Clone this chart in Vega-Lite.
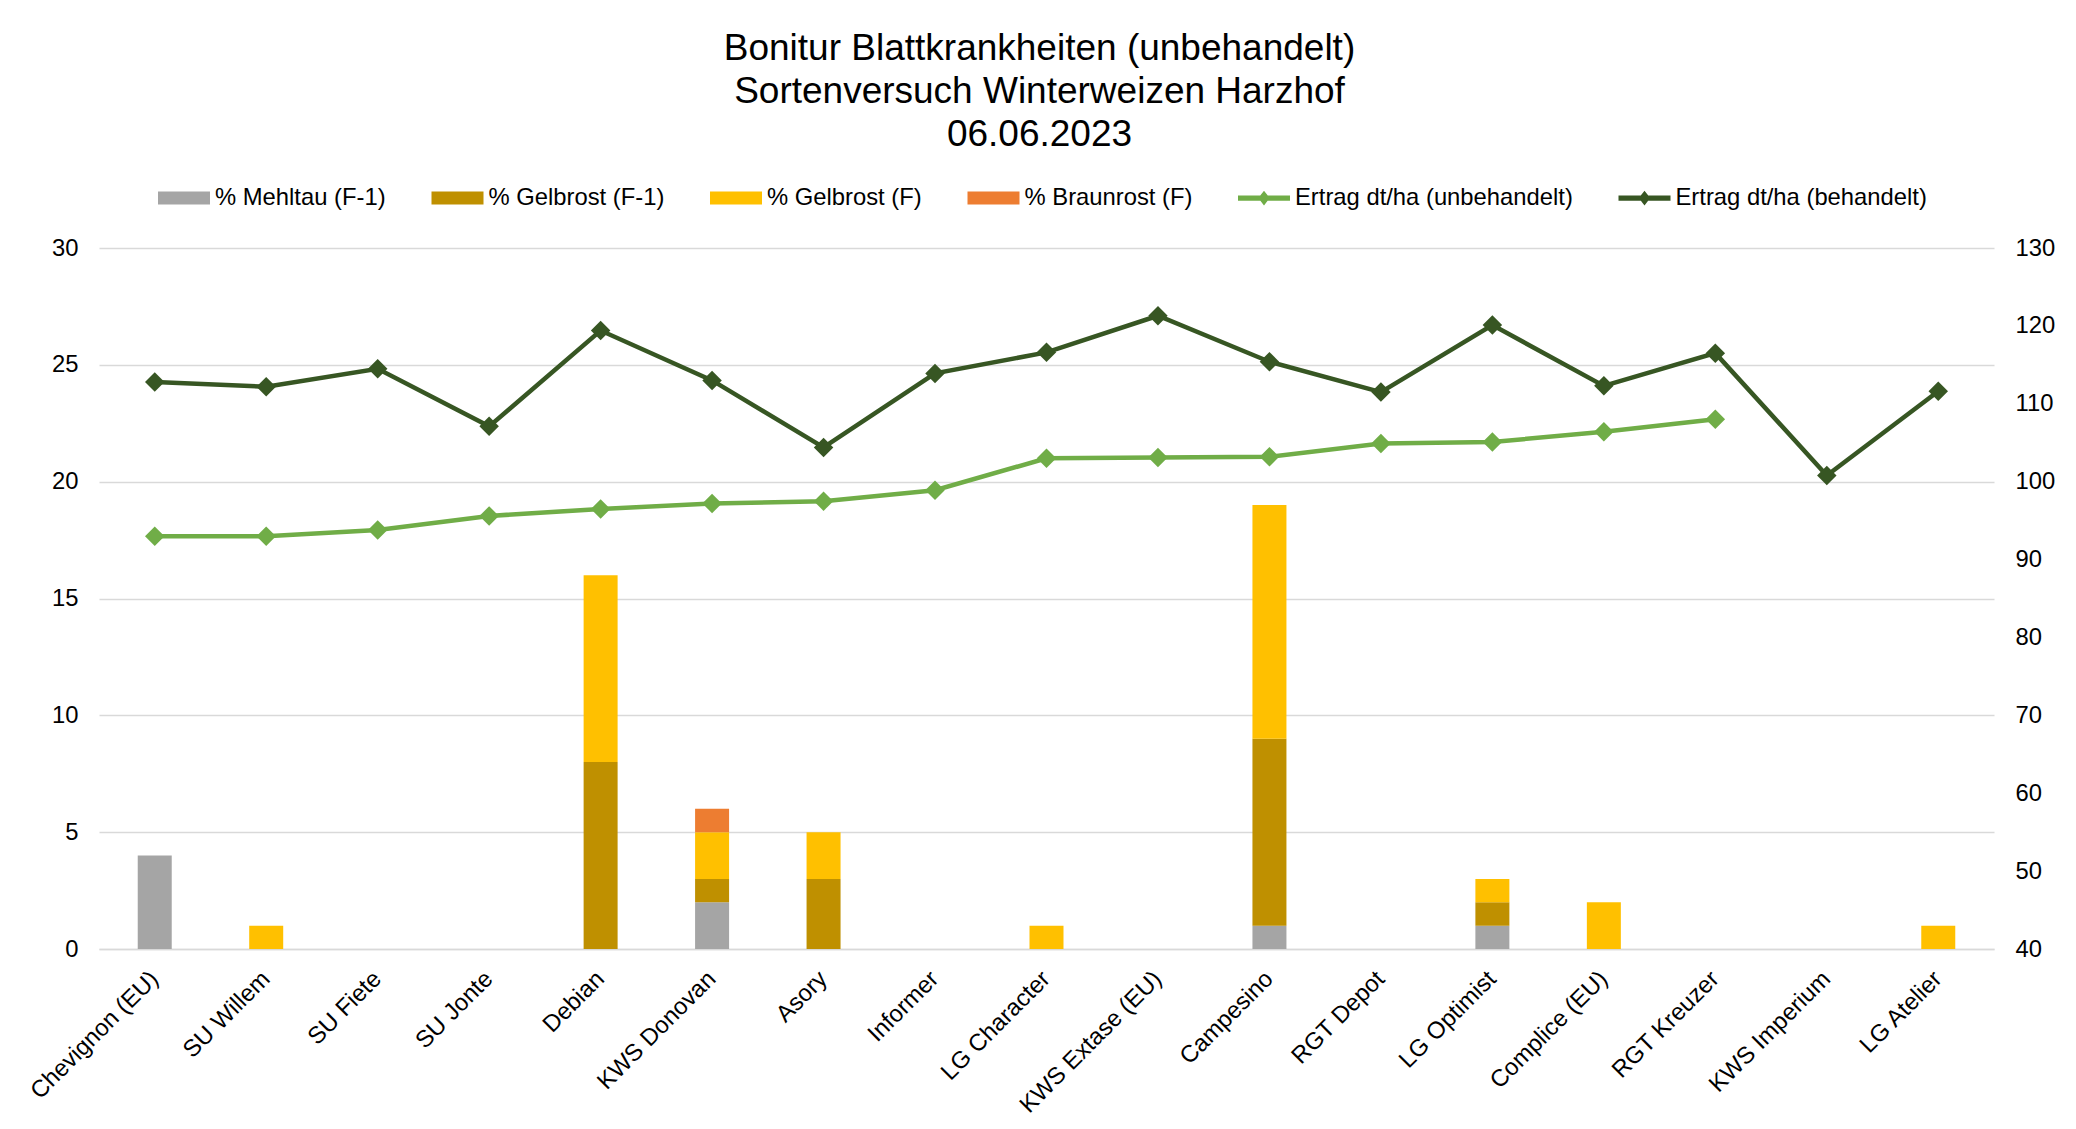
{
  "$schema": "https://vega.github.io/schema/vega-lite/v6.json",
  "width": 1895,
  "height": 701,
  "autosize": {"type": "none"},
  "padding": {"left": 99, "top": 248, "right": 82, "bottom": 180},
  "background": "#ffffff",
  "config": {
    "font": "Liberation Sans",
    "view": {"stroke": null},
    "axis": {"labelFont": "Liberation Sans", "labelFontSize": 23.8, "labelColor": "#000000", "titleFont": "Liberation Sans", "labelLimit": 0},
    "legend": {"labelFont": "Liberation Sans", "labelFontSize": 23.8, "labelColor": "#000000", "labelLimit": 0}
  },
  "title": {
    "text": ["Bonitur Blattkrankheiten (unbehandelt)", "Sortenversuch Winterweizen Harzhof", "06.06.2023"],
    "fontSize": 37,
    "fontWeight": "normal",
    "font": "Liberation Sans",
    "color": "#000000",
    "lineHeight": 43,
    "anchor": "middle",
    "frame": "group",
    "offset": 18,
    "dx": -7
  },
  "datasets": {
    "bars": [
      {"sorte": "Chevignon (EU)", "serie": "% Mehltau (F-1)", "wert": 4},
      {"sorte": "SU Willem", "serie": "% Gelbrost (F)", "wert": 1},
      {"sorte": "Debian", "serie": "% Gelbrost (F-1)", "wert": 8},
      {"sorte": "Debian", "serie": "% Gelbrost (F)", "wert": 8},
      {"sorte": "KWS Donovan", "serie": "% Mehltau (F-1)", "wert": 2},
      {"sorte": "KWS Donovan", "serie": "% Gelbrost (F-1)", "wert": 1},
      {"sorte": "KWS Donovan", "serie": "% Gelbrost (F)", "wert": 2},
      {"sorte": "KWS Donovan", "serie": "% Braunrost (F)", "wert": 1},
      {"sorte": "Asory", "serie": "% Gelbrost (F-1)", "wert": 3},
      {"sorte": "Asory", "serie": "% Gelbrost (F)", "wert": 2},
      {"sorte": "LG Character", "serie": "% Gelbrost (F)", "wert": 1},
      {"sorte": "Campesino", "serie": "% Mehltau (F-1)", "wert": 1},
      {"sorte": "Campesino", "serie": "% Gelbrost (F-1)", "wert": 8},
      {"sorte": "Campesino", "serie": "% Gelbrost (F)", "wert": 10},
      {"sorte": "LG Optimist", "serie": "% Mehltau (F-1)", "wert": 1},
      {"sorte": "LG Optimist", "serie": "% Gelbrost (F-1)", "wert": 1},
      {"sorte": "LG Optimist", "serie": "% Gelbrost (F)", "wert": 1},
      {"sorte": "Complice (EU)", "serie": "% Gelbrost (F)", "wert": 2},
      {"sorte": "LG Atelier", "serie": "% Gelbrost (F)", "wert": 1}
    ],
    "ertrag": [
      {"sorte": "Chevignon (EU)", "serie": "Ertrag dt/ha (unbehandelt)", "wert": 93.0},
      {"sorte": "SU Willem", "serie": "Ertrag dt/ha (unbehandelt)", "wert": 93.0},
      {"sorte": "SU Fiete", "serie": "Ertrag dt/ha (unbehandelt)", "wert": 93.8},
      {"sorte": "SU Jonte", "serie": "Ertrag dt/ha (unbehandelt)", "wert": 95.6},
      {"sorte": "Debian", "serie": "Ertrag dt/ha (unbehandelt)", "wert": 96.5},
      {"sorte": "KWS Donovan", "serie": "Ertrag dt/ha (unbehandelt)", "wert": 97.2},
      {"sorte": "Asory", "serie": "Ertrag dt/ha (unbehandelt)", "wert": 97.5},
      {"sorte": "Informer", "serie": "Ertrag dt/ha (unbehandelt)", "wert": 98.9},
      {"sorte": "LG Character", "serie": "Ertrag dt/ha (unbehandelt)", "wert": 103.0},
      {"sorte": "KWS Extase (EU)", "serie": "Ertrag dt/ha (unbehandelt)", "wert": 103.1},
      {"sorte": "Campesino", "serie": "Ertrag dt/ha (unbehandelt)", "wert": 103.2},
      {"sorte": "RGT Depot", "serie": "Ertrag dt/ha (unbehandelt)", "wert": 104.9},
      {"sorte": "LG Optimist", "serie": "Ertrag dt/ha (unbehandelt)", "wert": 105.1},
      {"sorte": "Complice (EU)", "serie": "Ertrag dt/ha (unbehandelt)", "wert": 106.4},
      {"sorte": "RGT Kreuzer", "serie": "Ertrag dt/ha (unbehandelt)", "wert": 108.0},
      {"sorte": "Chevignon (EU)", "serie": "Ertrag dt/ha (behandelt)", "wert": 112.8},
      {"sorte": "SU Willem", "serie": "Ertrag dt/ha (behandelt)", "wert": 112.2},
      {"sorte": "SU Fiete", "serie": "Ertrag dt/ha (behandelt)", "wert": 114.5},
      {"sorte": "SU Jonte", "serie": "Ertrag dt/ha (behandelt)", "wert": 107.1},
      {"sorte": "Debian", "serie": "Ertrag dt/ha (behandelt)", "wert": 119.4},
      {"sorte": "KWS Donovan", "serie": "Ertrag dt/ha (behandelt)", "wert": 113.0},
      {"sorte": "Asory", "serie": "Ertrag dt/ha (behandelt)", "wert": 104.4},
      {"sorte": "Informer", "serie": "Ertrag dt/ha (behandelt)", "wert": 113.9},
      {"sorte": "LG Character", "serie": "Ertrag dt/ha (behandelt)", "wert": 116.6},
      {"sorte": "KWS Extase (EU)", "serie": "Ertrag dt/ha (behandelt)", "wert": 121.3},
      {"sorte": "Campesino", "serie": "Ertrag dt/ha (behandelt)", "wert": 115.4},
      {"sorte": "RGT Depot", "serie": "Ertrag dt/ha (behandelt)", "wert": 111.5},
      {"sorte": "LG Optimist", "serie": "Ertrag dt/ha (behandelt)", "wert": 120.1},
      {"sorte": "Complice (EU)", "serie": "Ertrag dt/ha (behandelt)", "wert": 112.3},
      {"sorte": "RGT Kreuzer", "serie": "Ertrag dt/ha (behandelt)", "wert": 116.5},
      {"sorte": "KWS Imperium", "serie": "Ertrag dt/ha (behandelt)", "wert": 100.8},
      {"sorte": "LG Atelier", "serie": "Ertrag dt/ha (behandelt)", "wert": 111.6}
    ]
  },
  "encoding": {
    "x": {
      "field": "sorte",
      "type": "nominal",
      "scale": {
        "domain": ["Chevignon (EU)", "SU Willem", "SU Fiete", "SU Jonte", "Debian", "KWS Donovan", "Asory", "Informer", "LG Character", "KWS Extase (EU)", "Campesino", "RGT Depot", "LG Optimist", "Complice (EU)", "RGT Kreuzer", "KWS Imperium", "LG Atelier"],
        "paddingInner": 0.695,
        "paddingOuter": 0.3475
      },
      "axis": {
        "title": null,
        "labelAngle": -45,
        "labelAlign": "right",
        "labelBaseline": "middle",
        "labelPadding": 26,
        "ticks": false,
        "domain": true,
        "domainColor": "#D9D9D9",
        "domainWidth": 1.5,
        "grid": false
      }
    }
  },
  "layer": [
    {
      "data": {"name": "bars"},
      "mark": {"type": "bar"},
      "encoding": {
        "y": {
          "field": "wert",
          "type": "quantitative",
          "stack": "zero",
          "scale": {"domain": [0, 30], "nice": false},
          "axis": {
            "title": null,
            "orient": "left",
            "values": [0, 5, 10, 15, 20, 25, 30],
            "grid": true,
            "gridColor": "#D9D9D9",
            "gridWidth": 1.5,
            "domain": false,
            "ticks": false,
            "labelPadding": 21
          }
        },
        "color": {
          "field": "serie",
          "type": "nominal",
          "scale": {
            "domain": ["% Mehltau (F-1)", "% Gelbrost (F-1)", "% Gelbrost (F)", "% Braunrost (F)", "Ertrag dt/ha (unbehandelt)", "Ertrag dt/ha (behandelt)"],
            "range": ["#A5A5A5", "#BF9000", "#FFC000", "#ED7D31", "#70AD47", "#375623"]
          },
          "legend": {
            "title": null,
            "orient": "none",
            "direction": "horizontal",
            "legendX": 59,
            "legendY": -76,
            "symbolSize": 2704,
            "labelOffset": 5,
            "columnPadding": 45.5,
            "encode": {
              "symbols": {
                "update": {
                  "shape": {"signal": "indexof(['Ertrag dt/ha (unbehandelt)','Ertrag dt/ha (behandelt)'], datum.value) >= 0 ? 'M-1,-0.1L1,-0.1L1,0.1L-1,0.1Z M0,-0.28L0.22,0L0,0.28L-0.22,0Z' : 'M-1,-0.25L1,-0.25L1,0.25L-1,0.25Z'"},
                  "fill": {"scale": "color", "field": "value"},
                  "fillOpacity": {"value": 1},
                  "strokeWidth": {"value": 0},
                  "opacity": {"value": 1}
                }
              }
            }
          }
        },
        "order": {"field": "serie", "sort": "descending"}
      }
    },
    {
      "data": {"name": "ertrag"},
      "mark": {"type": "line", "strokeWidth": 4.5, "point": {"shape": "diamond", "size": 380, "filled": true}},
      "encoding": {
        "y": {
          "field": "wert",
          "type": "quantitative",
          "scale": {"domain": [40, 130], "nice": false, "zero": false},
          "axis": {
            "title": null,
            "orient": "right",
            "values": [40, 50, 60, 70, 80, 90, 100, 110, 120, 130],
            "grid": false,
            "domain": false,
            "ticks": false,
            "labelPadding": 21
          }
        },
        "color": {"field": "serie", "type": "nominal"}
      }
    }
  ],
  "resolve": {"scale": {"y": "independent"}}
}
